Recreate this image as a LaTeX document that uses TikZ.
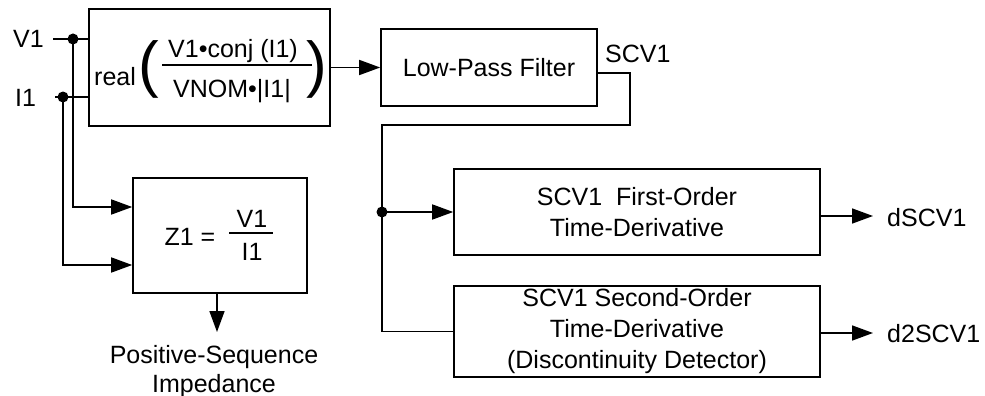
\documentclass[tikz,border=0pt]{standalone}
\usepackage{fontspec}
\setmainfont{Liberation Sans}
\usetikzlibrary{arrows.meta}
\newcommand\fs{\fontsize{25}{31}\selectfont}
\tikzset{
  blk/.style={draw, line width=1.6pt, inner sep=0pt, align=center, font=\fs},
  wire/.style={line width=1.6pt},
  arr/.style={wire, -{Triangle[length=21pt,width=15pt]}},
  txt/.style={inner sep=0pt, font=\fs},
  jdot/.style={circle, fill=black, inner sep=0pt, minimum size=11pt},
  bigparen/.style={inner sep=0pt, font=\fontsize{62}{62}\selectfont, anchor=base}
}
\begin{document}
\begin{tikzpicture}[x=1pt, y=-1pt]
\useasboundingbox (0,0) rectangle (985,396);

% boxes
\node[blk, minimum width=241pt, minimum height=117pt] (calc) at (209.5,67.5) {};
\node[blk, minimum width=216pt, minimum height=77pt] (lpf) at (489,67.5) {Low-Pass Filter};
\node[blk, minimum width=174pt, minimum height=115pt] (z1) at (220,235.5) {};
\node[blk, minimum width=366pt, minimum height=86pt] (fod) at (637,212) {SCV1\ \ First-Order\\Time-Derivative};
\node[blk, minimum width=366pt, minimum height=91pt] (sod) at (637,331.5) {SCV1 Second-Order\\Time-Derivative\\(Discontinuity Detector)};

% contents of calc box
\node[txt, anchor=base west] (real) at (94,85) {real};
\node[bigparen] (lp) at (148.5,85) {(};
\node[bigparen] (rp) at (316.5,85) {)};
\node[txt, anchor=base] (num) at (233,58) {V1•conj (I1)};
\node[txt, anchor=base] (den) at (232,97) {VNOM•|I1|};
\coordinate (bara) at (162,65);
\coordinate (barb) at (312,65);
\draw[wire] (bara) -- (barb);

% contents of z1 box
\node[txt, anchor=base] (zeq) at (190,245) {Z1 =};
\node[txt, anchor=base] (zn) at (252,227) {V1};
\node[txt, anchor=base] (zd) at (252,260) {I1};
\coordinate (zba) at (229,233);
\coordinate (zbb) at (273,233);
\draw[wire] (zba) -- (zbb);

% inputs
\node[txt, anchor=base west] (v1) at (13,48) {V1};
\node[txt, anchor=base west] (i1) at (15,106) {I1};
\coordinate (v1s) at (53,39);
\coordinate (i1s) at (55,97);
\node[jdot] (v1d) at (73,39) {};
\node[jdot] (i1d) at (63,97) {};
\draw[wire] (v1s) -- (calc.west |- v1s);
\draw[wire] (i1s) -- (calc.west |- i1s);
\draw[arr] (v1d.center) |- ([yshift=28.5pt]z1.west);
\draw[arr] (i1d.center) |- ([yshift=-29.5pt]z1.west);

% z1 output
\coordinate (zout) at (217,332);
\draw[arr] (z1.south -| zout) -- (zout);
\node[txt, anchor=base] (pos1) at (214,363) {Positive-Sequence};
\node[txt, anchor=base] (pos2) at (214,392) {Impedance};

% calc -> lpf
\draw[arr] (calc.east) -- (lpf.west);

% lpf output
\node[txt, anchor=base west] (scv) at (605,63) {SCV1};
\coordinate (t1) at (630,125);
\node[jdot] (junc) at (382,212) {};
\draw[wire] ([yshift=-5.5pt]lpf.east) -| (t1) -| (junc.center) |- (sod.west);
\draw[arr] (junc.center) -- (fod.west);

% outputs
\coordinate (oa) at (873,216);
\coordinate (ob) at (873,333);
\draw[arr] (fod.east |- oa) -- (oa);
\draw[arr] (sod.east |- ob) -- (ob);
\node[txt, anchor=base west] (dscv) at (887,226) {dSCV1};
\node[txt, anchor=base west] (d2scv) at (887,342) {d2SCV1};
\end{tikzpicture}
\end{document}
